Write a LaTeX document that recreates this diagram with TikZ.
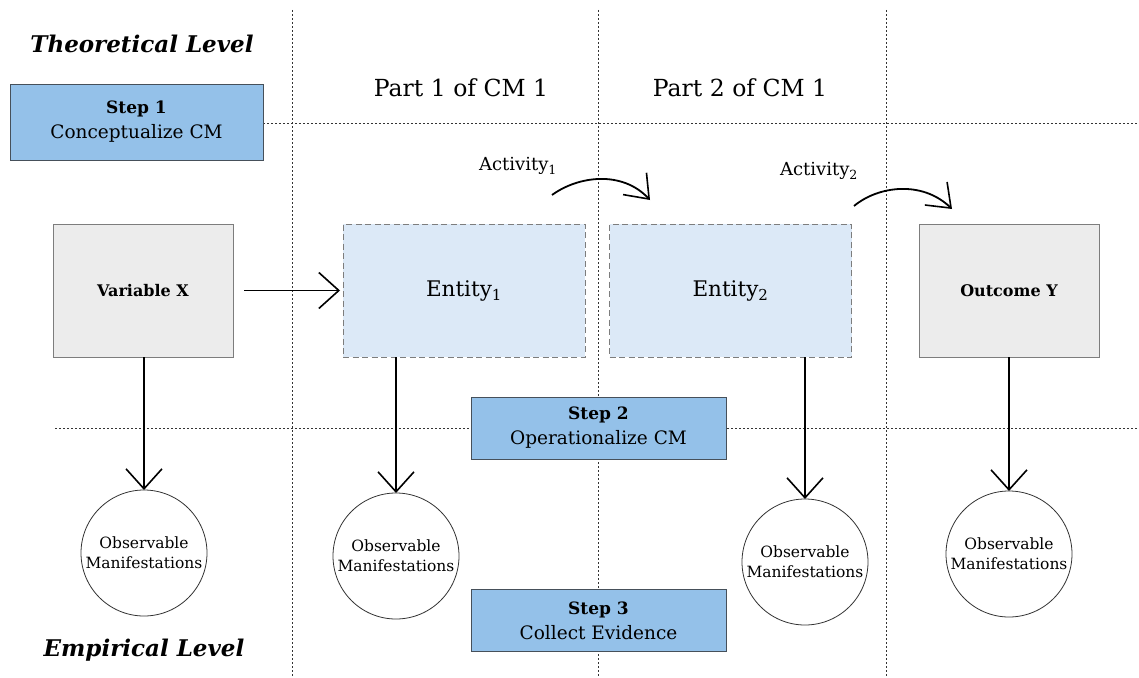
\documentclass[tikz,border=0pt]{standalone}
\usepackage{fontspec}
\setmainfont{DejaVu Serif}
\usetikzlibrary{arrows.meta}
\definecolor{stepblue}{RGB}{148,193,233}
\definecolor{stepedge}{RGB}{70,80,90}
\definecolor{boxgray}{RGB}{236,236,236}
\definecolor{edgegray}{RGB}{125,125,125}
\definecolor{entblue}{RGB}{220,233,247}
\begin{document}
\begin{tikzpicture}[x=1pt,y=-1pt,
  gridline/.style={line width=0.8pt, dash pattern=on 2pt off 2pt, black!80},
  stepbox/.style={draw=stepedge, line width=1pt, fill=stepblue, minimum width=255pt, minimum height=62pt, align=center, inner sep=0pt, outer sep=0pt, font=\fontsize{18.5}{25}\selectfont},
  varbox/.style={draw=edgegray, line width=1pt, fill=boxgray, minimum width=180pt, minimum height=133pt, inner sep=0pt, outer sep=0pt, font=\fontsize{16}{19}\selectfont\bfseries},
  entbox/.style={draw=edgegray, line width=1pt, dash pattern=on 6pt off 3.5pt, fill=entblue, minimum width=242pt, minimum height=133pt, inner sep=0pt, outer sep=0pt, font=\fontsize{21.5}{25}\selectfont},
  obs/.style={circle, draw=black!80, line width=0.8pt, fill=white, minimum size=126pt, inner sep=0pt, outer sep=0pt, align=center, font=\fontsize{15.5}{20}\selectfont},
  arr/.style={line width=1.8pt, -{Straight Barb[length=20pt, width=36pt, line width=1.6pt]}},
  curvearr/.style={line width=1.8pt, -{Straight Barb[length=21pt, width=32pt, line width=1.6pt]}},
  lvl/.style={font=\fontsize{23}{27}\selectfont\bfseries\itshape},
  part/.style={font=\fontsize{23.5}{27}\selectfont},
  act/.style={font=\fontsize{18}{21}\selectfont}
]
\useasboundingbox (0,0) rectangle (1139,677);
% grid
\draw[gridline] (292,10) -- (292,677);
\draw[gridline] (598,10) -- (598,677);
\draw[gridline] (886,10) -- (886,677);
\draw[gridline] (263,123) -- (1139,123);
\draw[gridline] (55,428) -- (1139,428);

% level labels
\node[lvl] (theo) at (142,44) {Theoretical Level};
\node[lvl] (emp) at (144,650) {Empirical Level};
\node[part] (p1) at (461,88) {Part 1 of CM 1};
\node[part] (p2) at (740,88) {Part 2 of CM 1};

% steps
\node[stepbox, minimum width=253pt, minimum height=76pt] (s1) at (136.5,122) {\textbf{\fontsize{17}{25}\selectfont Step 1}\\Conceptualize CM};
\node[stepbox] (s2) at (598.5,428) {\textbf{\fontsize{17}{25}\selectfont Step 2}\\Operationalize CM};
\node[stepbox] (s3) at (598.5,620.5) {\textbf{\fontsize{17}{25}\selectfont Step 3}\\Collect Evidence};

% main boxes
\node[varbox] (vx) at (143,290.5) {Variable X};
\node[entbox] (e1) at (464,290.5) {Entity\textsubscript{1}};
\node[entbox] (e2) at (730.5,290.5) {Entity\textsubscript{2}};
\node[varbox] (oy) at (1009,290.5) {Outcome Y};

% observable manifestations
\node[obs] (ox) at (144,553) {Observable\\Manifestations};
\node[obs] (o1) at (396,556) {Observable\\Manifestations};
\node[obs] (o2) at (805,562) {Observable\\Manifestations};
\node[obs] (o3) at (1009,554) {Observable\\Manifestations};

% arrows
\draw[arr] ([xshift=11pt]vx.east) -- ([xshift=-3pt]e1.west);
\draw[arr] (ox.north |- vx.south) -- (ox.north);
\draw[arr] (o1.north |- e1.south) -- (o1.north);
\draw[arr] (o2.north |- e2.south) -- (o2.north);
\draw[arr] (o3.north |- oy.south) -- (o3.north);

% activities
\node[act] (a1) at (518,166) {Activity\textsubscript{1}};
\node[act] (a2) at (819,171) {Activity\textsubscript{2}};
\coordinate (a1s) at (552,195);
\coordinate (a1e) at (650,200);
\coordinate (a2s) at (854,206);
\coordinate (a2e) at (952,209);
\draw[curvearr] (a1s) .. controls (578,176) and (622,170) .. (a1e);
\draw[curvearr] (a2s) .. controls (878,186) and (922,180) .. (a2e);
\end{tikzpicture}
\end{document}
